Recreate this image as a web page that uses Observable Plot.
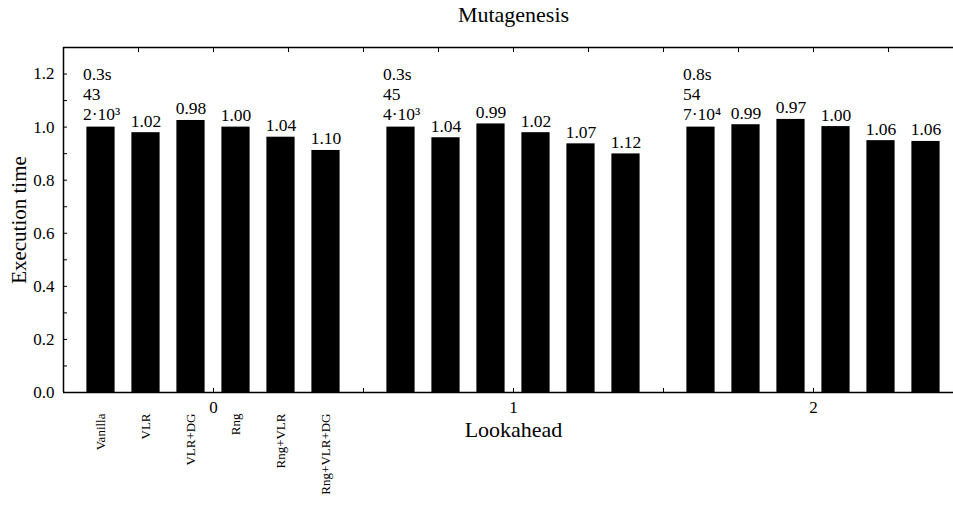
<!DOCTYPE html>
<html>
<head>
<meta charset="utf-8">
<script src="https://cdn.jsdelivr.net/npm/d3@7"></script>
<script src="https://cdn.jsdelivr.net/npm/@observablehq/plot@0.6"></script>
<style>
  html, body { margin: 0; padding: 0; background: #fff; overflow: hidden; }
  #chart svg { display: block; }
  #chart svg text { font-family: "Liberation Serif", "Times New Roman", serif; }
</style>
</head>
<body>
<div id="chart"></div>
<script>
const title = "Mutagenesis";
const groups = [0, 1, 2];
const categories = ["Vanilla", "VLR", "VLR+DG", "Rng", "Rng+VLR", "Rng+VLR+DG"];
// bar heights (relative execution time) per lookahead group
const times0 = [1.000, 0.979, 1.025, 1.000, 0.962, 0.912];
const times1 = [1.000, 0.960, 1.012, 0.979, 0.937, 0.899];
const times2 = [1.000, 1.009, 1.029, 1.002, 0.949, 0.946];
// labels printed above bars
const labels0 = ["0.3s\n43\n2·10³", "1.02", "0.98", "1.00", "1.04", "1.10"];
const labels1 = ["0.3s\n45\n4·10³", "1.04", "0.99", "1.02", "1.07", "1.12"];
const labels2 = ["0.8s\n54\n7·10⁴", "0.99", "0.97", "1.00", "1.06", "1.06"];
const yTicks = [0, 0.2, 0.4, 0.6, 0.8, 1.0, 1.2];
const yMinorTicks = [0, 0.1, 0.2, 0.3, 0.4, 0.5, 0.6, 0.7, 0.8, 0.9, 1.0, 1.1, 1.2];
const xMinorTicks = [-0.25, 0, 0.25, 0.5, 0.75, 1, 1.25, 1.5, 1.75, 2, 2.25];

const timesByGroup = [times0, times1, times2];
const labelsByGroup = [labels0, labels1, labels2];
const step = 0.15, half = 0.047;
const rows = [];
groups.forEach((g, gi) => {
  categories.forEach((c, i) => {
    const xc = g + (i - (categories.length - 1) / 2) * step;
    rows.push({group: g, cat: c, i, xc, x1: xc - half, x2: xc + half,
               t: timesByGroup[gi][i], label: labelsByGroup[gi][i]});
  });
});
const catRows = rows.filter(d => d.group === 0);

const font = '"Liberation Serif", "Times New Roman", serif';
const chart = Plot.plot({
  width: 953,
  height: 508,
  marginLeft: 63,
  marginRight: 0,
  marginTop: 47,
  marginBottom: 116,
  style: {fontFamily: font, color: "#000", background: "#fff"},
  x: {domain: [-0.5, 2.4667], axis: null},
  y: {domain: [0, 1.3], axis: null},
  marks: [
    // inward minor ticks (outward ticks shifted inside by their own length)
    Plot.axisY(yMinorTicks, {anchor: "left", tickSize: 4, dx: 4, text: null, label: null, strokeWidth: 1}),
    Plot.axisX(xMinorTicks, {anchor: "top", tickSize: 4, dy: 4, text: null, label: null, strokeWidth: 1}),
    Plot.axisX(xMinorTicks, {anchor: "bottom", tickSize: 4, dy: -4, text: null, label: null, strokeWidth: 1}),
    Plot.axisY(yTicks, {anchor: "left", tickSize: 0, tickPadding: 9, tickFormat: d3.format(".1f"), fontSize: 17, label: null}),
    Plot.axisX(groups, {anchor: "bottom", tickSize: 0, tickPadding: 8, tickFormat: d => String(d), fontSize: 17, label: null}),
    Plot.rectY(rows, {x1: "x1", x2: "x2", y1: 0, y2: "t", fill: "#000"}),
    Plot.ruleY([0, 1.3], {stroke: "#000", strokeWidth: 1.5}),
    Plot.ruleX([-0.5], {stroke: "#000", strokeWidth: 1.5}),
    Plot.text(rows.filter(d => d.i > 0), {x: "xc", y: "t", text: "label", textAnchor: "middle", lineAnchor: "bottom", dy: -6, fontSize: 17.5, fill: "#000"}),
    Plot.text(rows.filter(d => d.i === 0), {x: "xc", y: "t", text: "label", textAnchor: "start", lineAnchor: "bottom", dx: -18, dy: -7, lineHeight: 1.14, fontSize: 17.5, fill: "#000"}),
    Plot.text(catRows, {x: "xc", text: "cat", frameAnchor: "bottom", rotate: -90, textAnchor: "end", lineAnchor: "middle", dy: 21, fontSize: 13, fill: "#000"}),
    Plot.text(["Lookahead"], {x: 1, text: d => d, frameAnchor: "bottom", lineAnchor: "top", dy: 29, fontSize: 22, fill: "#000"}),
    Plot.text(["Execution time"], {y: 0.65, text: d => d, frameAnchor: "left", rotate: -90, textAnchor: "middle", lineAnchor: "middle", dx: -44, fontSize: 21, fill: "#000"}),
    Plot.text([title], {x: 1, text: d => d, frameAnchor: "top", lineAnchor: "middle", dy: -33, fontSize: 22, fill: "#000"})
  ]
});
document.getElementById("chart").appendChild(chart);
</script>
</body>
</html>
